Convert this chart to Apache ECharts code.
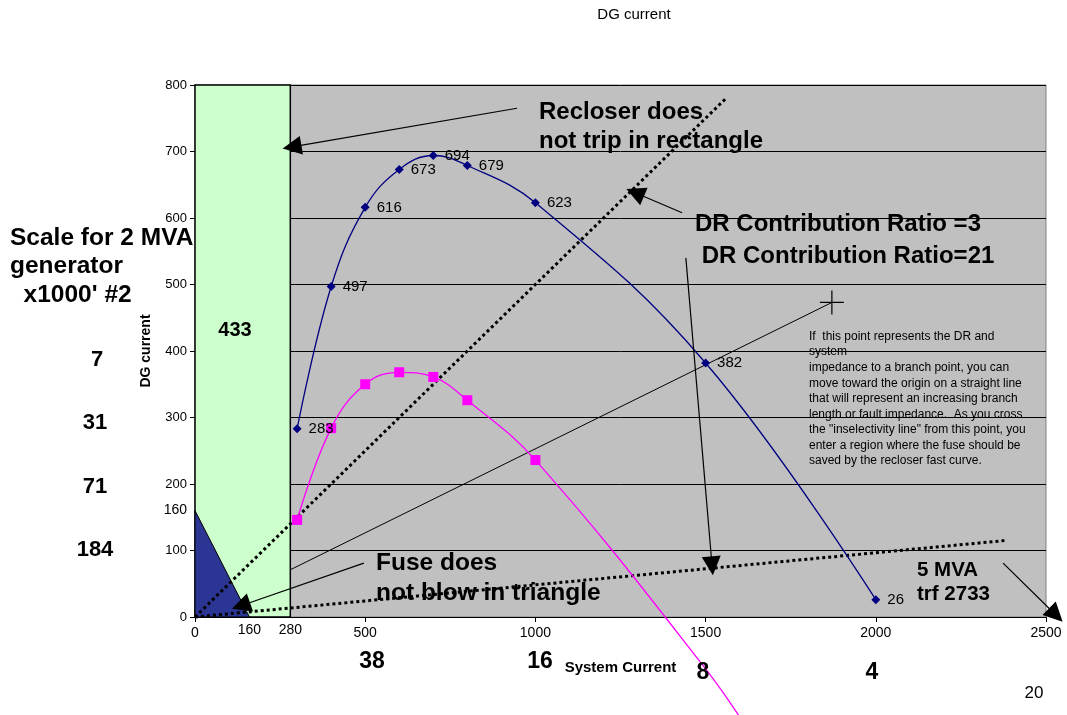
<!DOCTYPE html>
<html><head><meta charset="utf-8">
<script src="https://cdn.jsdelivr.net/npm/echarts/dist/echarts.min.js"></script>
<style>html,body{margin:0;padding:0;background:#fff}#c{width:1067px;height:715px}</style>
</head><body><div id="c"></div>
<script>
// ---- data ----
const xTickInterval = 500;
const yTickInterval = 100;
const blueX = [300, 400, 500, 600, 700, 800, 1000, 1500, 2000];
const blueY = [283, 497, 616, 673, 694, 679, 623, 382, 26];
const magentaX = [300, 400, 500, 600, 700, 800, 1000, 1500, 1650];
const magentaY = [146, 284, 350, 368, 361, 326, 236, -78, -190];
const magentaMarkedCount = 7;
const ratio3Line = [[0, 0], [1560, 780]];
const ratio21Line = [[0, 0], [2380, 115]];
const branchLine = [[280, 71], [1871, 473]];
const branchPoint = [1871, 473];
const recloserZone = [0, 0, 280, 800];
const fuseZone = [[0, 0], [0, 160], [160, 0]];
const extraXLabels = [160, 280];
const extraYLabels = [160];
const arrowFrom = [[946, 765], [1431, 608], [1442, 540], [496, 81], [2374, 81]];
const arrowTo   = [[285, 707], [1293, 638], [1519, 77], [135, 17], [2529, 3]];
const leftScaleLabels = ['7', '31', '71', '184'];
const bottomScaleLabels = ['38', '16', '8', '4'];

const FONT = 'Liberation Sans, Arial, sans-serif';
const chart = echarts.init(document.getElementById('c'), null, {renderer: 'canvas'});

function ctext(text, x, y, size, bold, opts) {
  opts = opts || {};
  return {
    type: 'text', x: x, y: y, z: 100, silent: true,
    style: {
      text: text, font: (bold ? 'bold ' : '') + size + 'px ' + FONT, fill: '#000',
      align: opts.align || 'center', verticalAlign: 'middle',
      lineHeight: opts.lineHeight || size
    }
  };
}

const leftScalePos = [[97, 360], [95, 423], [95, 487], [95, 550]];
const bottomScalePos = [[372, 662], [540, 662], [703, 673], [872, 673]];

const graphics = [
  ctext('DG current', 634, 15, 15, false),
  ctext('Recloser does\nnot trip in rectangle', 539, 126.5, 24, true, {align: 'left', lineHeight: 29}),
  ctext('DR Contribution Ratio =3', 695, 224, 24, true, {align: 'left'}),
  ctext(' DR Contribution Ratio=21', 695, 256, 24, true, {align: 'left'}),
  ctext('If  this point represents the DR and', 809, 337, 12, false, {align: 'left'}),
  ctext('system', 809, 352, 12, false, {align: 'left'}),
  ctext('impedance to a branch point, you can\nmove toward the origin on a straight line\nthat will represent an increasing branch\nlength or fault impedance.  As you cross\nthe "inselectivity line" from this point, you\nenter a region where the fuse should be\nsaved by the recloser fast curve.', 809, 414.5, 12, false, {align: 'left', lineHeight: 15.55}),
  ctext('Fuse does\nnot blow in triangle', 376, 578, 24.5, true, {align: 'left', lineHeight: 30}),
  ctext('5 MVA\ntrf 2733', 917, 582.5, 20.5, true, {align: 'left', lineHeight: 23.5}),
  ctext('Scale for 2 MVA\ngenerator\n  x1000\' #2', 10, 266.5, 24.5, true, {align: 'left', lineHeight: 28.5}),
  ctext('20', 1034, 693, 17, false),
  ctext('433', 235, 330, 20, true)
];
leftScaleLabels.forEach((t, i) => graphics.push(ctext(t, leftScalePos[i][0], leftScalePos[i][1], 22, true)));
bottomScaleLabels.forEach((t, i) => graphics.push(ctext(t, bottomScalePos[i][0], bottomScalePos[i][1], 23, true)));

const option = {
  backgroundColor: '#fff',
  animation: false,
  textStyle: {fontFamily: FONT},
  grid: {left: 195, right: 21, top: 85, bottom: 98, show: true, backgroundColor: '#C0C0C0', borderColor: '#808080', borderWidth: 1},
  xAxis: {
    type: 'value', min: 0, max: 2500, interval: xTickInterval,
    name: 'System Current', nameLocation: 'middle', nameGap: 43,
    nameTextStyle: {fontWeight: 'bold', fontSize: 15, color: '#000', fontFamily: FONT},
    axisLine: {show: true, onZero: false, lineStyle: {color: '#000', width: 1}},
    axisTick: {show: true, length: 5, lineStyle: {color: '#000'}},
    axisLabel: {fontSize: 14, color: '#000', margin: 9, fontFamily: FONT, formatter: v => String(v)},
    splitLine: {show: false}
  },
  yAxis: {
    type: 'value', min: 0, max: 800, interval: yTickInterval,
    name: 'DG current', nameLocation: 'middle', nameGap: 42, nameRotate: 90,
    nameTextStyle: {fontWeight: 'bold', fontSize: 14, color: '#000', fontFamily: FONT},
    axisLine: {show: true, onZero: false, lineStyle: {color: '#000', width: 1}},
    axisTick: {show: true, length: 5, lineStyle: {color: '#000'}},
    axisLabel: {fontSize: 13, color: '#000', margin: 8, fontFamily: FONT, formatter: v => String(v)},
    splitLine: {show: true, lineStyle: {color: '#000', width: 1}}
  },
  series: [
    {
      type: 'line', z: 1, silent: true, symbol: 'none', clip: false,
      data: branchLine, lineStyle: {color: '#000', width: 1}
    },
    {
      type: 'custom', z: 2, silent: true, clip: false,
      data: [recloserZone],
      renderItem: function (params, api) {
        const p0 = api.coord([api.value(0), api.value(1)]);
        const p1 = api.coord([api.value(2), api.value(3)]);
        return {type: 'rect', shape: {x: p0[0], y: p1[1], width: p1[0] - p0[0], height: p0[1] - p1[1]},
          style: {fill: '#CCFFCC', stroke: '#000', lineWidth: 1.5}};
      }
    },
    {
      type: 'custom', z: 3, silent: true, clip: false,
      data: [[0, 0]],
      renderItem: function (params, api) {
        return {type: 'polygon', shape: {points: fuseZone.map(p => api.coord(p))},
          style: {fill: '#2B3593', stroke: '#000', lineWidth: 1}};
      }
    },
    {
      type: 'line', z: 4, silent: true, symbol: 'none', clip: false,
      data: ratio3Line, lineStyle: {color: '#000', width: 3, type: [3, 3]}
    },
    {
      type: 'line', z: 4, silent: true, symbol: 'none', clip: false,
      data: ratio21Line, lineStyle: {color: '#000', width: 3, type: [3, 3]}
    },
    {
      type: 'line', z: 5, smooth: 0.4, clip: false,
      symbol: 'diamond', symbolSize: 9,
      itemStyle: {color: '#000080'},
      lineStyle: {color: '#000080', width: 1.3},
      label: {show: true, position: 'right', distance: 7, fontSize: 15, color: '#000', fontFamily: FONT},
      data: blueX.map((x, i) => [x, blueY[i]])
    },
    {
      type: 'line', z: 5, smooth: 0.4, clip: false,
      symbol: 'rect', symbolSize: 10,
      itemStyle: {color: '#FF00FF'},
      lineStyle: {color: '#FF00FF', width: 1.3},
      data: magentaX.map((x, i) => i < magentaMarkedCount ? [x, magentaY[i]] : {value: [x, magentaY[i]], symbol: 'none'})
    },
    {
      type: 'scatter', z: 6, silent: true, clip: false,
      symbol: 'path://M0,9.5h20v1h-20z M9.5,0h1v20h-1z', symbolSize: 24,
      itemStyle: {color: '#000', opacity: 1},
      data: [branchPoint]
    },
    {
      type: 'lines', coordinateSystem: 'cartesian2d', z: 7, silent: true, clip: false,
      symbol: ['none', 'triangle'], symbolSize: 19,
      lineStyle: {color: '#000', width: 1.2, opacity: 1},
      data: arrowFrom.map((f, i) => ({coords: [f, arrowTo[i]]}))
    },
    {
      type: 'scatter', z: 8, silent: true, clip: false, symbolSize: 0,
      itemStyle: {opacity: 1},
      label: {show: true, position: 'bottom', distance: 6, fontSize: 14, color: '#000', fontFamily: FONT,
        formatter: p => String(p.value[0])},
      data: extraXLabels.map(v => [v, 0])
    },
    {
      type: 'scatter', z: 8, silent: true, clip: false, symbolSize: 0,
      itemStyle: {opacity: 1},
      label: {show: true, position: 'left', distance: 8, fontSize: 14, color: '#000', fontFamily: FONT,
        formatter: p => String(p.value[1])},
      data: extraYLabels.map(v => [0, v])
    }
  ],
  graphic: graphics
};
chart.setOption(option);
</script>
</body></html>
